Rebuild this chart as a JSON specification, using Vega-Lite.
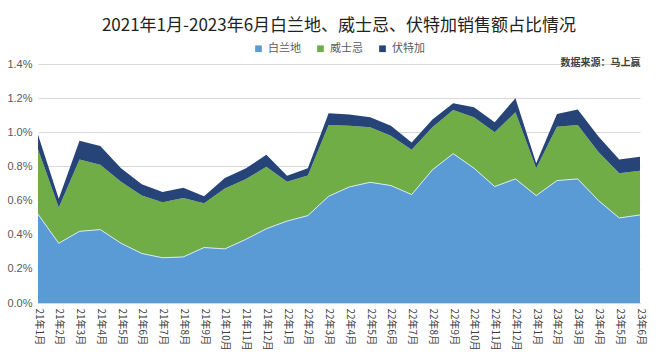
{
  "$schema": "https://vega.github.io/schema/vega-lite/v6.json",
  "autosize": {"type": "fit", "contains": "padding"},
  "width": 672,
  "height": 355,
  "padding": {"left": 6, "right": 27, "top": 17, "bottom": 4},
  "background": "white",
  "title": {
    "text": "2021年1月-2023年6月白兰地、威士忌、伏特加销售额占比情况",
    "font": "Noto Sans CJK SC",
    "fontSize": 17,
    "fontWeight": "normal",
    "color": "#222222",
    "anchor": "middle",
    "offset": 8
  },
  "config": {
    "view": {"stroke": null},
    "font": "Noto Sans CJK SC",
    "legend": {"layout": {"top": {"anchor": "middle"}}}
  },
  "data": {
    "values": [
      {"m": "21年1月", "s": "白兰地", "v": 0.52}, {"m": "21年1月", "s": "威士忌", "v": 0.38}, {"m": "21年1月", "s": "伏特加", "v": 0.085},
      {"m": "21年2月", "s": "白兰地", "v": 0.35}, {"m": "21年2月", "s": "威士忌", "v": 0.21}, {"m": "21年2月", "s": "伏特加", "v": 0.05},
      {"m": "21年3月", "s": "白兰地", "v": 0.42}, {"m": "21年3月", "s": "威士忌", "v": 0.42}, {"m": "21年3月", "s": "伏特加", "v": 0.11},
      {"m": "21年4月", "s": "白兰地", "v": 0.43}, {"m": "21年4月", "s": "威士忌", "v": 0.38}, {"m": "21年4月", "s": "伏特加", "v": 0.11},
      {"m": "21年5月", "s": "白兰地", "v": 0.35}, {"m": "21年5月", "s": "威士忌", "v": 0.36}, {"m": "21年5月", "s": "伏特加", "v": 0.08},
      {"m": "21年6月", "s": "白兰地", "v": 0.29}, {"m": "21年6月", "s": "威士忌", "v": 0.34}, {"m": "21年6月", "s": "伏特加", "v": 0.065},
      {"m": "21年7月", "s": "白兰地", "v": 0.265}, {"m": "21年7月", "s": "威士忌", "v": 0.325}, {"m": "21年7月", "s": "伏特加", "v": 0.06},
      {"m": "21年8月", "s": "白兰地", "v": 0.27}, {"m": "21年8月", "s": "威士忌", "v": 0.345}, {"m": "21年8月", "s": "伏特加", "v": 0.06},
      {"m": "21年9月", "s": "白兰地", "v": 0.325}, {"m": "21年9月", "s": "威士忌", "v": 0.26}, {"m": "21年9月", "s": "伏特加", "v": 0.04},
      {"m": "21年10月", "s": "白兰地", "v": 0.317}, {"m": "21年10月", "s": "威士忌", "v": 0.353}, {"m": "21年10月", "s": "伏特加", "v": 0.062},
      {"m": "21年11月", "s": "白兰地", "v": 0.372}, {"m": "21年11月", "s": "威士忌", "v": 0.353}, {"m": "21年11月", "s": "伏特加", "v": 0.063},
      {"m": "21年12月", "s": "白兰地", "v": 0.435}, {"m": "21年12月", "s": "威士忌", "v": 0.363}, {"m": "21年12月", "s": "伏特加", "v": 0.07},
      {"m": "22年1月", "s": "白兰地", "v": 0.48}, {"m": "22年1月", "s": "威士忌", "v": 0.23}, {"m": "22年1月", "s": "伏特加", "v": 0.035},
      {"m": "22年2月", "s": "白兰地", "v": 0.512}, {"m": "22年2月", "s": "威士忌", "v": 0.235}, {"m": "22年2月", "s": "伏特加", "v": 0.043},
      {"m": "22年3月", "s": "白兰地", "v": 0.625}, {"m": "22年3月", "s": "威士忌", "v": 0.417}, {"m": "22年3月", "s": "伏特加", "v": 0.07},
      {"m": "22年4月", "s": "白兰地", "v": 0.68}, {"m": "22年4月", "s": "威士忌", "v": 0.358}, {"m": "22年4月", "s": "伏特加", "v": 0.066},
      {"m": "22年5月", "s": "白兰地", "v": 0.707}, {"m": "22年5月", "s": "威士忌", "v": 0.322}, {"m": "22年5月", "s": "伏特加", "v": 0.059},
      {"m": "22年6月", "s": "白兰地", "v": 0.688}, {"m": "22年6月", "s": "威士忌", "v": 0.292}, {"m": "22年6月", "s": "伏特加", "v": 0.059},
      {"m": "22年7月", "s": "白兰地", "v": 0.635}, {"m": "22年7月", "s": "威士忌", "v": 0.262}, {"m": "22年7月", "s": "伏特加", "v": 0.043},
      {"m": "22年8月", "s": "白兰地", "v": 0.78}, {"m": "22年8月", "s": "威士忌", "v": 0.25}, {"m": "22年8月", "s": "伏特加", "v": 0.045},
      {"m": "22年9月", "s": "白兰地", "v": 0.875}, {"m": "22年9月", "s": "威士忌", "v": 0.255}, {"m": "22年9月", "s": "伏特加", "v": 0.04},
      {"m": "22年10月", "s": "白兰地", "v": 0.79}, {"m": "22年10月", "s": "威士忌", "v": 0.298}, {"m": "22年10月", "s": "伏特加", "v": 0.058},
      {"m": "22年11月", "s": "白兰地", "v": 0.682}, {"m": "22年11月", "s": "威士忌", "v": 0.318}, {"m": "22年11月", "s": "伏特加", "v": 0.059},
      {"m": "22年12月", "s": "白兰地", "v": 0.727}, {"m": "22年12月", "s": "威士忌", "v": 0.39}, {"m": "22年12月", "s": "伏特加", "v": 0.083},
      {"m": "23年1月", "s": "白兰地", "v": 0.629}, {"m": "23年1月", "s": "威士忌", "v": 0.16}, {"m": "23年1月", "s": "伏特加", "v": 0.03},
      {"m": "23年2月", "s": "白兰地", "v": 0.717}, {"m": "23年2月", "s": "威士忌", "v": 0.316}, {"m": "23年2月", "s": "伏特加", "v": 0.074},
      {"m": "23年3月", "s": "白兰地", "v": 0.727}, {"m": "23年3月", "s": "威士忌", "v": 0.316}, {"m": "23年3月", "s": "伏特加", "v": 0.09},
      {"m": "23年4月", "s": "白兰地", "v": 0.6}, {"m": "23年4月", "s": "威士忌", "v": 0.285}, {"m": "23年4月", "s": "伏特加", "v": 0.09},
      {"m": "23年5月", "s": "白兰地", "v": 0.498}, {"m": "23年5月", "s": "威士忌", "v": 0.262}, {"m": "23年5月", "s": "伏特加", "v": 0.08},
      {"m": "23年6月", "s": "白兰地", "v": 0.516}, {"m": "23年6月", "s": "威士忌", "v": 0.259}, {"m": "23年6月", "s": "伏特加", "v": 0.082}
    ]
  },
  "resolve": {"axis": {"x": "independent"}},
  "layer": [
    {
      "mark": {"type": "area", "opacity": 1},
      "encoding": {
        "x": {
          "field": "m",
          "type": "ordinal",
          "sort": null,
          "scale": {"type": "point", "padding": 0},
          "axis": {
            "title": null,
            "labelAngle": 90,
            "labelFontSize": 10,
            "labelColor": "#404040",
            "labelPadding": 5,
            "ticks": false,
            "domain": true,
            "domainColor": "#d9d9d9",
            "grid": false
          }
        },
        "y": {
          "field": "v",
          "type": "quantitative",
          "stack": "zero",
          "scale": {"domain": [0, 1.4], "nice": false},
          "axis": {
            "title": null,
            "values": [0, 0.2, 0.4, 0.6, 0.8, 1.0, 1.2, 1.4],
            "labelExpr": "format(datum.value, '.1f') + '%'",
            "labelOverlap": false,
            "labelFontSize": 11,
            "labelFont": "Liberation Sans",
            "labelColor": "#595959",
            "labelPadding": 6,
            "ticks": false,
            "domain": false,
            "gridColor": "#d9d9d9",
            "gridWidth": 1
          }
        },
        "color": {
          "field": "s",
          "type": "nominal",
          "scale": {
            "domain": ["白兰地", "威士忌", "伏特加"],
            "range": ["#5B9BD5", "#70AD47", "#264478"]
          },
          "legend": {
            "title": null,
            "orient": "top",
            "direction": "horizontal",
            "symbolType": "square",
            "symbolSize": 45,
            "symbolStrokeWidth": 0,
            "labelFontSize": 11,
            "labelColor": "#595959",
            "columnPadding": 14,
            "offset": 3
          }
        },
        "order": {"field": "s", "sort": "descending"}
      }
    },
    {
      "transform": [{"filter": "datum.s === '白兰地'"}],
      "mark": {"type": "line", "color": "#d6e8f7", "strokeWidth": 1},
      "encoding": {
        "x": {
          "field": "m",
          "type": "ordinal",
          "sort": null,
          "axis": {
            "orient": "top",
            "title": "数据来源：马上赢",
            "titleAnchor": "end",
            "titleFontSize": 10,
            "titleFontWeight": "bold",
            "titleColor": "#404040",
            "titlePadding": -3,
            "minExtent": 0,
            "maxExtent": 0,
            "labels": false,
            "ticks": false,
            "domain": false,
            "grid": false
          }
        },
        "y": {
          "field": "v",
          "type": "quantitative",
          "axis": {
            "title": null,
            "values": [0, 0.2, 0.4, 0.6, 0.8, 1.0, 1.2, 1.4],
            "labelExpr": "format(datum.value, '.1f') + '%'",
            "labelOverlap": false,
            "labelFontSize": 11,
            "labelFont": "Liberation Sans",
            "labelColor": "#595959",
            "labelPadding": 6,
            "ticks": false,
            "domain": false,
            "gridColor": "#d9d9d9",
            "gridWidth": 1
          }
        }
      }
    }
  ]
}
